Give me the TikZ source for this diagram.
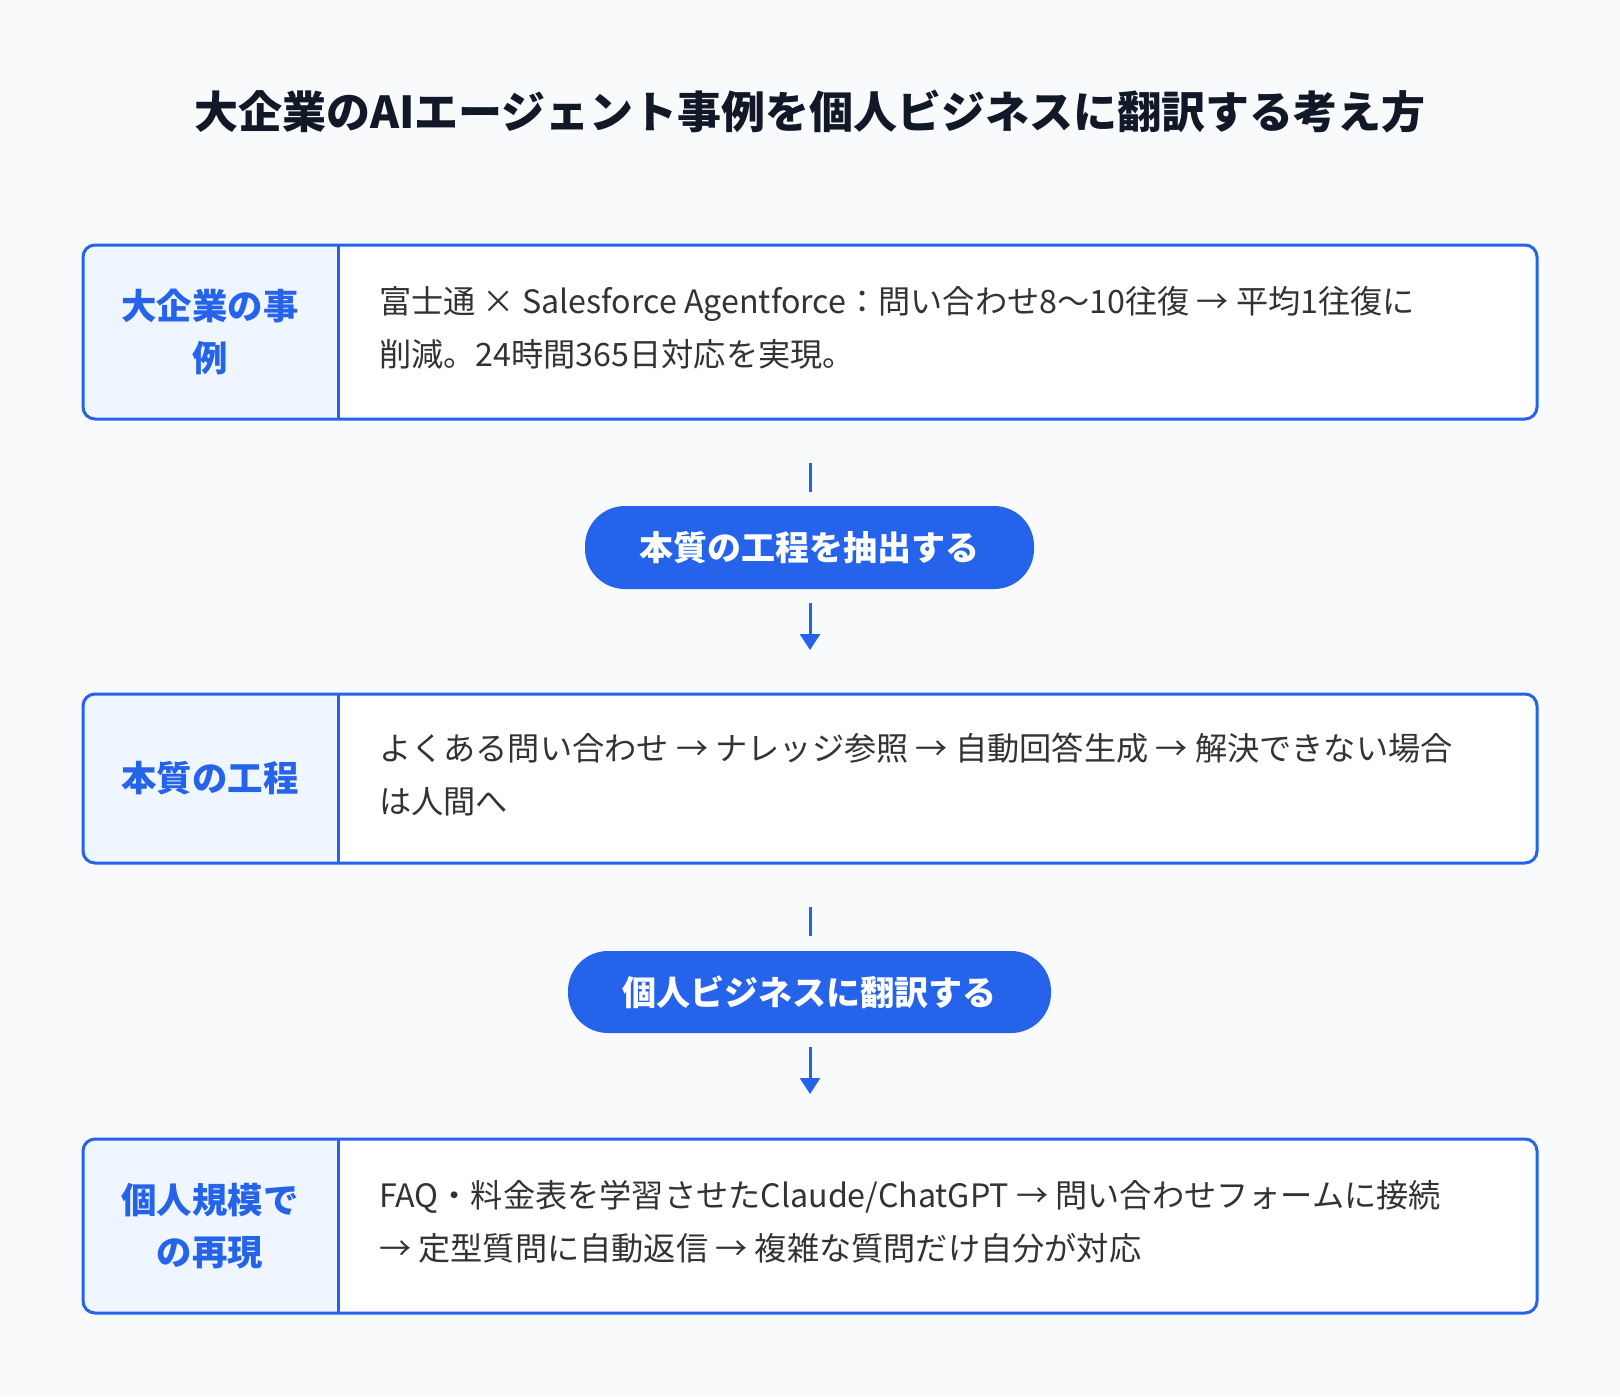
\documentclass[tikz,border=0pt]{standalone}
\usepackage{fontspec}
\setmainfont{Noto Sans CJK JP}
\usetikzlibrary{arrows.meta}
\definecolor{bg}{HTML}{F8FAFC}
\definecolor{blu}{HTML}{2563EB}
\definecolor{lbg}{HTML}{EFF6FF}
\definecolor{txt}{HTML}{333333}
\definecolor{ttl}{HTML}{111827}
\tikzset{
  x=0.5pt,y=-0.5pt,
  card/.style={draw=blu,line width=1.5pt,rounded corners=6pt},
  lab/.style={text=blu,font=\fontsize{17.7}{26}\selectfont\bfseries,align=center},
  body/.style={text=txt,font=\fontsize{16.1}{26.5}\selectfont,align=left,anchor=west},
  pill/.style={fill=blu,rounded corners=20pt,text=white,font=\fontsize{17}{20}\selectfont\bfseries},
  conn/.style={draw=blu,line width=1.5pt},
}
\begin{document}
\begin{tikzpicture}
\fill[bg] (0,0) rectangle (1620,1396);
\useasboundingbox (0,0) rectangle (1620,1396);
\node[text=ttl,font=\fontsize{22}{26}\selectfont\bfseries] (title) at (810,112) {大企業のAIエージェント事例を個人ビジネスに翻訳する考え方};
% cards
\foreach \i/\ya/\yb/\l/\t in {
 1/245/419/{大企業の事\\例}/{富士通 × Salesforce Agentforce：問い合わせ8〜10往復 → 平均1往復に\\削減。24時間365日対応を実現。},
 2/694/863/{本質の工程}/{よくある問い合わせ → ナレッジ参照 → 自動回答生成 → 解決できない場合\\は人間へ},
 3/1139/1313/{個人規模で\\の再現}/{FAQ・料金表を学習させたClaude/ChatGPT → 問い合わせフォームに接続\\→ 定型質問に自動返信 → 複雑な質問だけ自分が対応}}{
 \begin{scope}
 \clip[rounded corners=6pt] (83,\ya) rectangle (1537,\yb);
 \fill[white] (83,\ya) rectangle (1537,\yb);
 \fill[lbg] (83,\ya) rectangle (338,\yb);
 \end{scope}
 \draw[blu,line width=1.5pt] (338,\ya) -- (338,\yb);
 \draw[card] (83,\ya) rectangle (1537,\yb);
 \node[lab] (l\i) at (210,{(\ya+\yb)/2}) {\l};
 \node[body] (b\i) at (372,{(\ya+\yb)/2-4}) {\t};
}
\node[pill,minimum width=449*0.5pt,minimum height=83*0.5pt] (p1) at (809.5,547.5) {本質の工程を抽出する};
\node[pill,minimum width=483*0.5pt,minimum height=82*0.5pt] (p2) at (809.5,992) {個人ビジネスに翻訳する};
\coordinate (s1a) at (810,463); \coordinate (s1b) at (810,492);
\coordinate (a1a) at (810,603); \coordinate (a1b) at (810,650);
\coordinate (s2a) at (810,907); \coordinate (s2b) at (810,936);
\coordinate (a2a) at (810,1047); \coordinate (a2b) at (810,1094);
\draw[conn] (s1a) -- (s1b);
\draw[conn,-{Triangle[length=8pt,width=10pt]}] (a1a) -- (a1b);
\draw[conn] (s2a) -- (s2b);
\draw[conn,-{Triangle[length=8pt,width=10pt]}] (a2a) -- (a2b);
\end{tikzpicture}
\end{document}
